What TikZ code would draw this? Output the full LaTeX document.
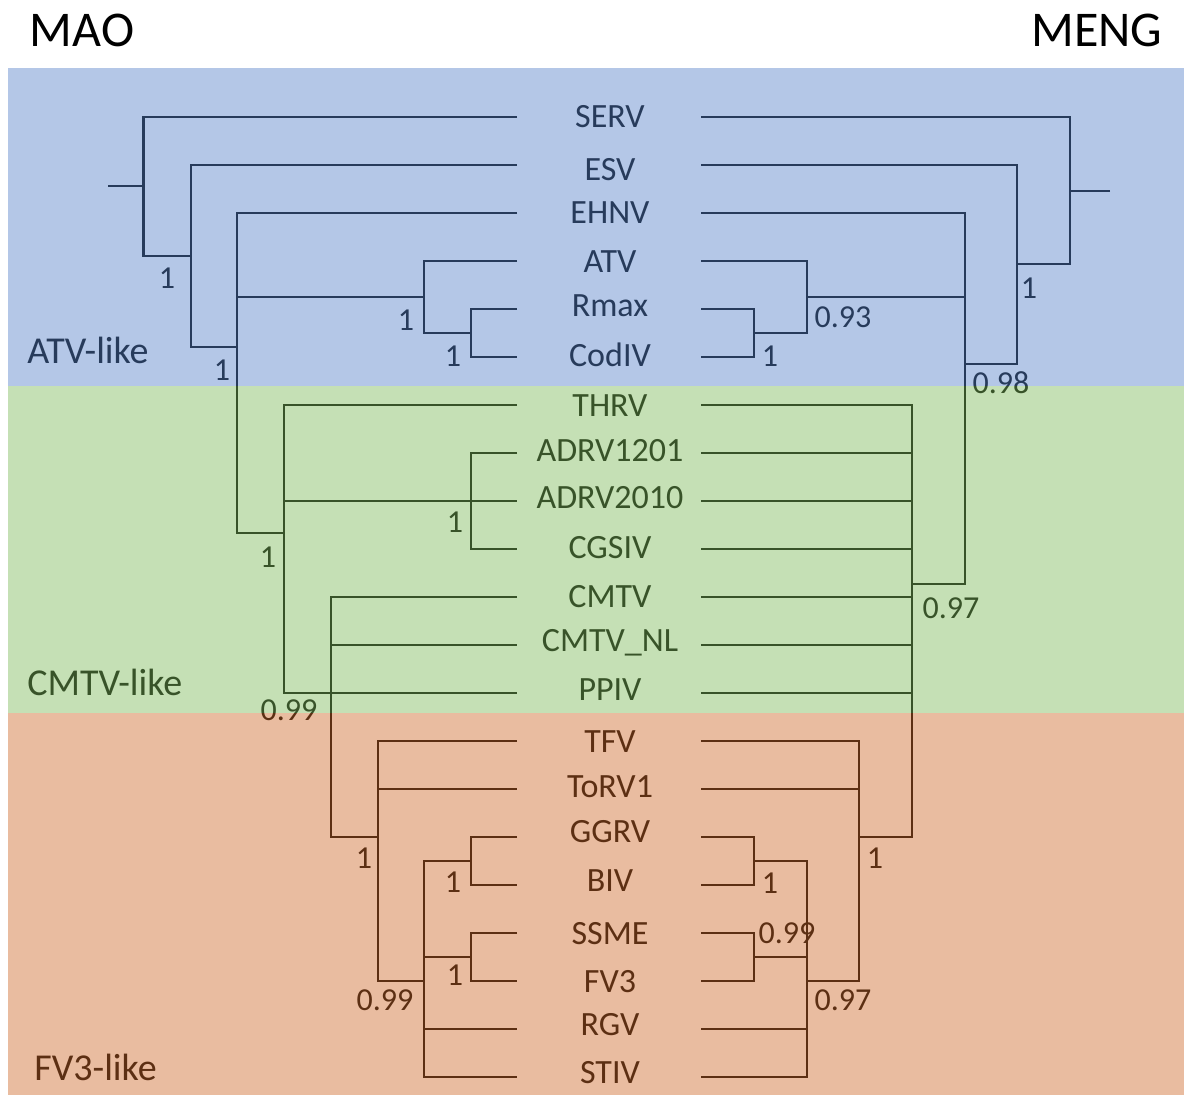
\documentclass[tikz,border=0pt]{standalone}
\usepackage{fontspec}
\setmainfont{Carlito}
\definecolor{blueband}{RGB}{88,131,202}
\definecolor{greenband}{RGB}{126,186,91}
\definecolor{orangeband}{RGB}{206,106,44}

\begin{document}
\begin{tikzpicture}[
    x=0.5pt, y=-0.5pt,
    leaf/.style={font=\fontsize{17}{17}\selectfont, anchor=base, inner sep=0pt},
    supp/.style={font=\fontsize{16}{16}\selectfont, inner sep=0pt},
    grp/.style={font=\fontsize{19}{19}\selectfont, anchor=west, inner sep=0pt},
    ttl/.style={font=\fontsize{25}{25}\selectfont, inner sep=0pt},
    br/.style={line width=1.3pt},
    band/.style={fill opacity=0.45}
  ]
  \useasboundingbox (0,0) rectangle (1184,1095);
  \node[ttl] (mao) at (82,30) {MAO};
  \node[ttl] (meng) at (1097,30) {MENG};

  \foreach \id/\name/\y/\ly in {serv/SERV/117/117, esv/ESV/165/170,
      ehnv/EHNV/213/213, atv/ATV/261/262, rmax/Rmax/309/306,
      codiv/CodIV/357/356, thrv/THRV/405/406, adrva/ADRV1201/453/451,
      adrvb/ADRV2010/501/498, cgsiv/CGSIV/549/548, cmtv/CMTV/597/597,
      cmtvnl/CMTV\_NL/645/641, ppiv/PPIV/693/690, tfv/TFV/741/742,
      torv/ToRV1/789/787, ggrv/GGRV/837/832, biv/BIV/885/881,
      ssme/SSME/933/934, fvthree/FV3/981/982, rgv/RGV/1029/1025,
      stiv/STIV/1077/1072} {
    \node[leaf] (\id) at (610,\ly+11) {\name};
    \coordinate (\id-l) at (517,\y);
    \coordinate (\id-r) at (701,\y);
  }

  \foreach \n/\x/\y in {lroot/108/186, la/143.5/256, lb/191/256, lc/191/347,
      ld/237/347, le/237/533, lf/284/533, lg/237/297, lh/424/297,
      li/424/333, lj/471/333, lm/331/837, ln/378/837, lo/378/981,
      lp/424/981, lq/471/861, lr/424/957, ls/471/957,
      rroot/1110/191, ra/1070/264, rb/1017/264, rc/1017/364, rd/965/364,
      re/965/584, rf/912/584, rg/965/297, rh/807/297, ri/807/333,
      rj/754/333, rk/912/837, rl/859/837, rm/859/981, rn/807/981,
      ro/754/861, rp/807/957, rq/754/957}
    \coordinate (\n) at (\x,\y);

  % MAO tree
  \draw[br] (lroot) -- (lroot -| la);
  \draw[br] (serv-l) -| (la) -- (lb);
  \draw[br] (esv-l) -| (lc) -- (ld);
  \draw[br] (ehnv-l) -| (le) -- (lf);
  \draw[br] (lg) -- (lh);
  \draw[br] (atv-l) -| (li) -- (lj);
  \draw[br] (rmax-l) -| (codiv-l -| lj) -- (codiv-l);
  \draw[br] (thrv-l) -| (ppiv-l -| lf) -- (ppiv-l);
  \draw[br] (adrvb-l -| lf) -- (adrvb-l);
  \draw[br] (adrva-l) -| (cgsiv-l -| lj) -- (cgsiv-l);
  \draw[br] (cmtv-l) -| (lm) -- (ln);
  \draw[br] (cmtvnl-l -| lm) -- (cmtvnl-l);
  \draw[br] (tfv-l) -| (lo) -- (lp);
  \draw[br] (torv-l -| lo) -- (torv-l);
  \draw[br] (lq) -| (stiv-l -| lp) -- (stiv-l);
  \draw[br] (lr) -- (ls);
  \draw[br] (rgv-l -| lp) -- (rgv-l);
  \draw[br] (ggrv-l) -| (biv-l -| lq) -- (biv-l);
  \draw[br] (ssme-l) -| (fvthree-l -| ls) -- (fvthree-l);

  % MENG tree
  \draw[br] (rroot) -- (rroot -| ra);
  \draw[br] (serv-r) -| (ra) -- (rb);
  \draw[br] (esv-r) -| (rc) -- (rd);
  \draw[br] (ehnv-r) -| (re) -- (rf);
  \draw[br] (rg) -- (rh);
  \draw[br] (atv-r) -| (ri) -- (rj);
  \draw[br] (rmax-r) -| (codiv-r -| rj) -- (codiv-r);
  \draw[br] (thrv-r) -| (rk) -- (rl);
  \foreach \id in {adrva,adrvb,cgsiv,cmtv,cmtvnl,ppiv}
    \draw[br] (\id-r) -- (\id-r -| rk);
  \draw[br] (tfv-r) -| (rm) -- (rn);
  \draw[br] (torv-r) -- (torv-r -| rm);
  \draw[br] (ro) -| (stiv-r -| rn) -- (stiv-r);
  \draw[br] (rp) -- (rq);
  \draw[br] (rgv-r) -- (rgv-r -| rn);
  \draw[br] (ggrv-r) -| (biv-r -| ro) -- (biv-r);
  \draw[br] (ssme-r) -| (fvthree-r -| rq) -- (fvthree-r);

  \foreach \x/\y/\v [count=\i] in {167/278/1, 222/370/1, 406/320/1,
      453/356/1, 455/522/1, 268/557/1, 289/710/0.99, 364/858/1,
      453/882/1, 455/975/1, 385/1000/0.99, 1029/288/1, 843/317/0.93,
      770/356/1, 1001/383/0.98, 951/608/0.97, 875/858/1, 770/883/1,
      787/933/0.99, 843/1000/0.97}
    \node[supp] (bs\i) at (\x,\y) {\v};

  \node[grp] (atvlike) at (27,350) {ATV-like};
  \node[grp] (cmtvlike) at (27,682) {CMTV-like};
  \node[grp] (fvlike) at (34,1067) {FV3-like};

  \fill[blueband, band] (8,68) rectangle (1184,386);
  \fill[greenband, band] (8,386) rectangle (1184,713);
  \fill[orangeband, band] (8,713) rectangle (1184,1095);
\end{tikzpicture}
\end{document}
